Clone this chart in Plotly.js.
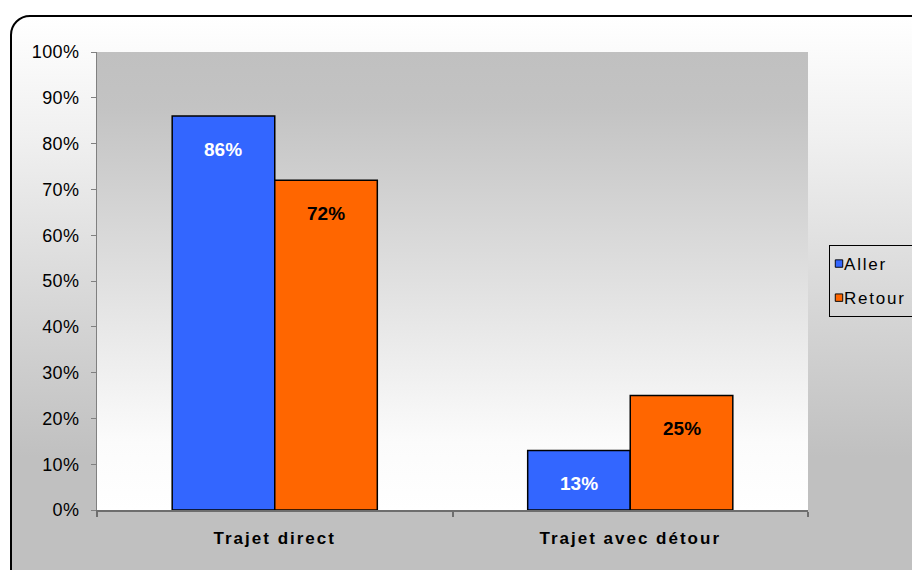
<!DOCTYPE html>
<html>
<head>
<meta charset="utf-8">
<script src="https://cdn.plot.ly/plotly-3.0.1.min.js"></script>
<style>
  html, body { margin: 0; padding: 0; background: #ffffff; }
  #wrap { position: relative; width: 912px; height: 570px; overflow: hidden; background: #ffffff; }
  #frame { position: absolute; left: 10px; top: 15px; width: 940px; height: 600px;
           border: 2px solid #000; border-radius: 20px; box-sizing: border-box;
           background: linear-gradient(to bottom, #ffffff 0px, #f0f0f0 120px, #c0c0c0 440px, #c0c0c0 600px); }
  #chart { position: absolute; left: 0; top: 0; width: 912px; height: 570px; }
  .xtick text { letter-spacing: 2px; }
  .ytick text { letter-spacing: 0.4px; }
  .legendtext { letter-spacing: 1.8px; }
</style>
</head>
<body>
<div id="wrap">
  <div id="frame"></div>
  <div id="chart"></div>
</div>
<script>
const categories = ["Trajet direct", "Trajet avec détour"];
const seriesNames = ["Aller", "Retour"];
const allerValues = [0.86, 0.13];
const retourValues = [0.72, 0.25];
const yTickValues = [0, 0.1, 0.2, 0.3, 0.4, 0.5, 0.6, 0.7, 0.8, 0.9, 1.0];

const colors = ["#3366FF", "#FF6600"];
const labelColors = ["#FFFFFF", "#000000"];
const allSeries = [allerValues, retourValues];
const bargap = 0.423;

const traces = allSeries.map((vals, i) => ({
  type: "bar",
  name: seriesNames[i],
  x: categories,
  y: vals,
  legendgroup: "g" + i,
  marker: { color: colors[i], line: { color: "#000000", width: 1.5 } },
  hoverinfo: "skip"
}));

const annotations = [];
allSeries.forEach((vals, i) => {
  vals.forEach((v, j) => {
    annotations.push({
      xref: "x", yref: "y",
      x: j + (i - 0.5) * (1 - bargap) / 2,
      y: v,
      yshift: -33,
      text: "<b>" + Math.round(v * 100) + "%</b>",
      showarrow: false,
      xanchor: "center", yanchor: "middle",
      font: { family: "Liberation Sans, Arial, sans-serif", size: 19, color: labelColors[i] }
    });
  });
});

const svg = '<svg xmlns="http://www.w3.org/2000/svg" width="100" height="100" preserveAspectRatio="none">' +
  '<defs><linearGradient id="g" x1="0" y1="0" x2="0" y2="1">' +
  '<stop offset="0" stop-color="#c0c0c0"/><stop offset="0.12" stop-color="#c3c3c3"/>' +
  '<stop offset="0.85" stop-color="#fbfbfb"/><stop offset="1" stop-color="#ffffff"/>' +
  '</linearGradient></defs><rect width="100" height="100" fill="url(#g)"/></svg>';

const layout = {
  width: 912, height: 570,
  margin: { l: 97, r: 104, t: 52, b: 60, autoexpand: false },
  paper_bgcolor: "rgba(0,0,0,0)",
  plot_bgcolor: "rgba(0,0,0,0)",
  font: { family: "Liberation Sans, Arial, sans-serif", color: "#000000", size: 17 },
  barmode: "group",
  bargap: bargap,
  bargroupgap: 0,
  showlegend: true,
  legend: {
    xref: "container", yref: "container",
    x: 829 / 912, y: 1 - 245 / 570,
    xanchor: "left", yanchor: "top",
    bgcolor: "rgba(0,0,0,0)",
    bordercolor: "#000000", borderwidth: 1,
    font: { size: 17, color: "#000000" },
    traceorder: "grouped",
    tracegroupgap: 9,
    itemwidth: 30
  },
  xaxis: {
    type: "category",
    range: [-0.5, 1.5],
    showline: true, linecolor: "#6e6e6e", linewidth: 2,
    ticks: "outside", tickson: "boundaries", ticklen: 5, tickcolor: "#6e6e6e", tickwidth: 2,
    ticklabelstandoff: 12,
    tickfont: { size: 17, color: "#000000", weight: "bold" },
    showgrid: false, zeroline: false,
    fixedrange: true
  },
  yaxis: {
    range: [0, 1],
    tickvals: yTickValues,
    tickformat: ".0%",
    showline: true, linecolor: "#808080", linewidth: 1,
    ticks: "outside", ticklen: 5, tickcolor: "#808080", tickwidth: 1,
    ticklabelstandoff: 8,
    tickfont: { size: 18, color: "#000000" },
    showgrid: false, zeroline: false,
    fixedrange: true
  },
  images: [{
    source: "data:image/svg+xml;charset=utf-8," + encodeURIComponent(svg),
    xref: "paper", yref: "paper", x: 0, y: 1, sizex: 1, sizey: 1,
    xanchor: "left", yanchor: "top", sizing: "stretch", layer: "below"
  }],
  annotations: annotations
};

Plotly.newPlot("chart", traces, layout, { displayModeBar: false, staticPlot: true }).then(function () {
  // Tighten the legend: smaller swatches placed close to their labels, as in the original.
  document.querySelectorAll("#chart .legend .legendpoints path").forEach(function (p) {
    const t = p.getAttribute("transform") || "";
    p.setAttribute("transform", t + " translate(-11,0) scale(0.62)");
  });
  document.querySelectorAll("#chart .legend .legendtext").forEach(function (el) {
    const t = el.getAttribute("transform") || "";
    el.setAttribute("transform", t + " translate(-26,0)");
  });
});
</script>
</body>
</html>
